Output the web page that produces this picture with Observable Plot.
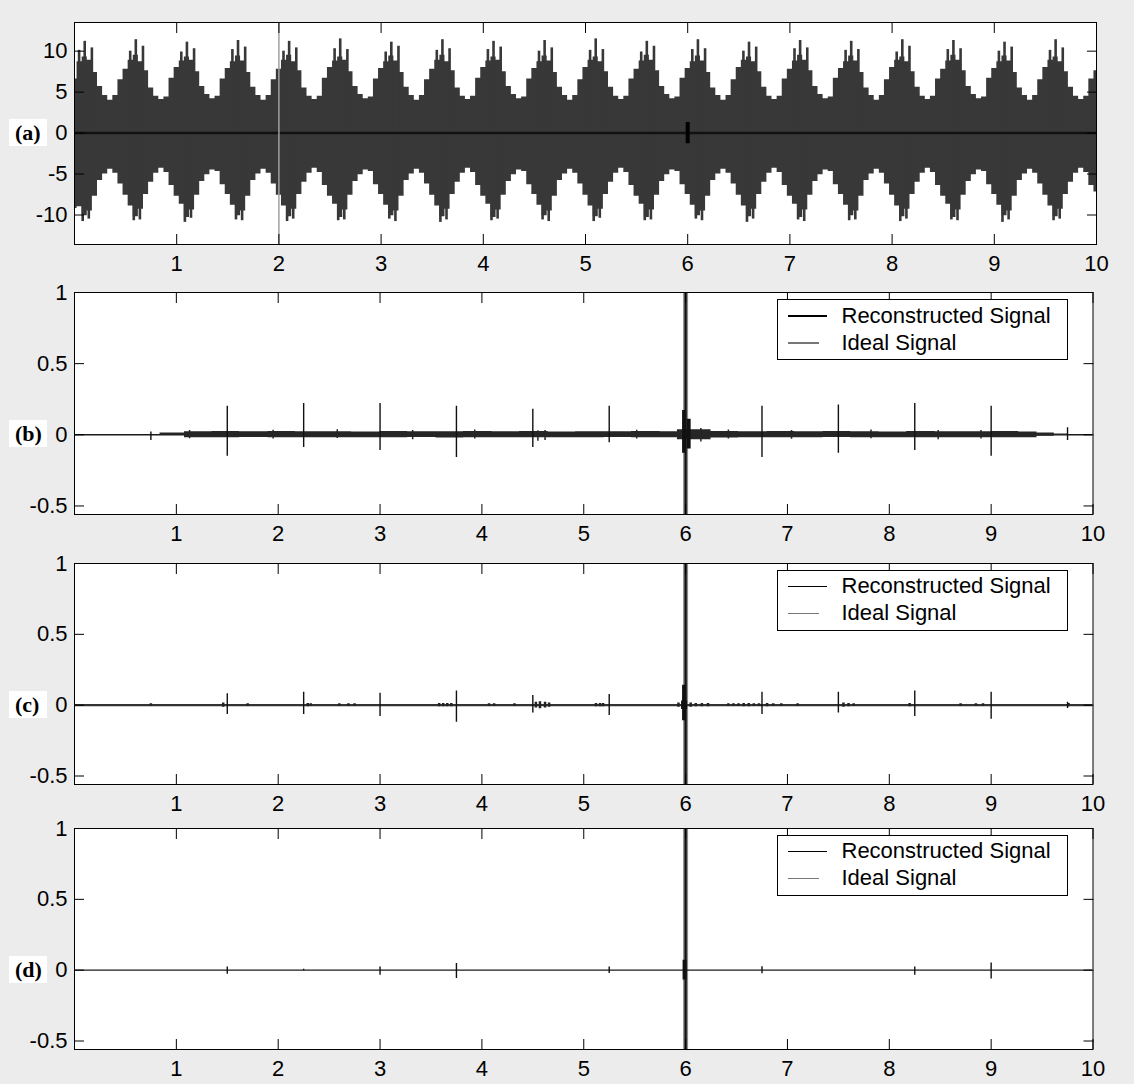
<!DOCTYPE html>
<html>
<head>
<meta charset="utf-8">
<script src="https://cdn.jsdelivr.net/npm/d3@7"></script>
<script src="https://cdn.jsdelivr.net/npm/@observablehq/plot@0.6"></script>
<style>
  html, body { margin: 0; padding: 0; background: #ececec; }
  #wrap { position: relative; width: 1134px; height: 1084px; background: #ececec; overflow: hidden;
          font-family: "Liberation Sans", Arial, Helvetica, sans-serif; color: #000; }
  #wrap svg { position: absolute; left: 0; }
  .tag { position: absolute; left: 9px; width: 38px; height: 27px; background: #fff;
         font: bold 22px "Liberation Serif", "DejaVu Serif", serif; line-height: 27px;
         padding-left: 6px; box-sizing: border-box; white-space: nowrap; }
  .legend { position: absolute; left: 777px; width: 291px; height: 61px; border: 1px solid #000;
            background: #fff; box-sizing: border-box; }
  .ls { position: absolute; left: 10px; height: 1.5px; }
  .lt { position: absolute; left: 63.5px; font-size: 22px; line-height: 22px; white-space: nowrap; }
</style>
</head>
<body>
<div id="wrap"></div>
<script>
// ---------------- DATA ----------------
const xTicks = [1, 2, 3, 4, 5, 6, 7, 8, 9, 10];
const yTicksA = [-10, -5, 0, 5, 10];
const yTicksB = [-0.5, 0, 0.5, 1];
const panelTags = ["(a)", "(b)", "(c)", "(d)"];
const legendLabels = ["Reconstructed Signal", "Ideal Signal"];

// Panel (a): body of the signal envelope, sampled every 0.05 s from 0 to 10
const sigStep = 0.05;
const sigUpper = [
  6.6, 8.7, 9.3, 8.9, 7.4, 5.7, 4.6, 4.0, 4.6, 6.5,
  7.8, 8.9, 9.5, 8.7, 7.6, 5.5, 4.5, 4.1, 4.4, 6.7,
  8.0, 8.8, 9.3, 8.9, 7.5, 5.7, 4.7, 4.2, 4.5, 6.6,
  7.9, 8.7, 9.4, 8.8, 7.4, 5.6, 4.6, 4.0, 4.6, 6.5,
  7.8, 8.9, 9.5, 8.7, 7.6, 5.5, 4.5, 4.1, 4.5, 6.7,
  8.0, 8.8, 9.3, 8.9, 7.5, 5.7, 4.7, 4.2, 4.4, 6.6,
  7.9, 8.7, 9.4, 8.8, 7.4, 5.6, 4.6, 4.0, 4.6, 6.5,
  7.8, 8.9, 9.5, 8.7, 7.6, 5.5, 4.5, 4.1, 4.5, 6.7,
  8.0, 8.8, 9.3, 8.9, 7.5, 5.7, 4.7, 4.2, 4.4, 6.6,
  7.9, 8.7, 9.4, 8.8, 7.4, 5.6, 4.6, 4.0, 4.6, 6.5,
  8.0, 8.9, 9.3, 8.7, 7.5, 5.6, 4.5, 4.1, 4.5, 6.6,
  7.8, 8.8, 9.5, 8.9, 7.6, 5.7, 4.7, 4.2, 4.4, 6.7,
  7.9, 8.7, 9.4, 8.8, 7.4, 5.5, 4.6, 4.0, 4.6, 6.5,
  8.0, 8.9, 9.3, 8.7, 7.5, 5.6, 4.5, 4.1, 4.5, 6.6,
  7.8, 8.8, 9.5, 8.9, 7.6, 5.7, 4.7, 4.2, 4.4, 6.7,
  7.9, 8.7, 9.4, 8.8, 7.4, 5.5, 4.6, 4.0, 4.6, 6.5,
  8.0, 8.9, 9.3, 8.7, 7.5, 5.6, 4.5, 4.1, 4.5, 6.6,
  7.8, 8.8, 9.5, 8.9, 7.6, 5.7, 4.7, 4.2, 4.4, 6.7,
  7.9, 8.7, 9.4, 8.8, 7.4, 5.5, 4.6, 4.0, 4.6, 6.5,
  8.0, 8.9, 9.3, 8.7, 7.5, 5.6, 4.5, 4.1, 4.5, 6.6,
  7.6
];
const sigLower = [
  -9.2, -9.0, -10.1, -9.5, -7.7, -5.8, -5.0, -4.4, -4.9, -6.2,
  -7.6, -8.9, -10.2, -9.3, -7.5, -6.0, -4.9, -4.3, -4.8, -6.4,
  -7.7, -8.7, -10.3, -9.4, -7.6, -5.9, -5.1, -4.5, -4.7, -6.3,
  -7.5, -8.8, -10.1, -9.5, -7.7, -5.8, -5.0, -4.4, -4.9, -6.2,
  -7.6, -8.9, -10.2, -9.3, -7.5, -6.0, -4.9, -4.3, -4.8, -6.4,
  -7.7, -8.7, -10.3, -9.4, -7.6, -5.9, -5.1, -4.5, -4.7, -6.3,
  -7.5, -8.8, -10.1, -9.5, -7.7, -5.8, -5.0, -4.4, -4.9, -6.2,
  -7.6, -8.9, -10.2, -9.3, -7.5, -6.0, -4.9, -4.3, -4.8, -6.4,
  -7.7, -8.7, -10.3, -9.4, -7.6, -5.9, -5.1, -4.5, -4.7, -6.3,
  -7.5, -8.8, -10.1, -9.5, -7.7, -5.8, -5.0, -4.4, -4.9, -6.2,
  -7.6, -8.9, -10.2, -9.3, -7.5, -6.0, -4.9, -4.3, -4.8, -6.4,
  -7.7, -8.7, -10.3, -9.4, -7.6, -5.9, -5.1, -4.5, -4.7, -6.3,
  -7.5, -8.8, -10.1, -9.5, -7.7, -5.8, -5.0, -4.4, -4.9, -6.2,
  -7.6, -8.9, -10.2, -9.3, -7.5, -6.0, -4.9, -4.3, -4.8, -6.4,
  -7.7, -8.7, -10.3, -9.4, -7.6, -5.9, -5.1, -4.5, -4.7, -6.3,
  -7.5, -8.8, -10.1, -9.5, -7.7, -5.8, -5.0, -4.4, -4.9, -6.2,
  -7.6, -8.9, -10.2, -9.3, -7.5, -6.0, -4.9, -4.3, -4.8, -6.4,
  -7.7, -8.7, -10.3, -9.4, -7.6, -5.9, -5.1, -4.5, -4.7, -6.3,
  -7.5, -8.8, -10.1, -9.5, -7.7, -5.8, -5.0, -4.4, -4.9, -6.2,
  -7.6, -8.9, -10.2, -9.3, -7.5, -6.0, -4.9, -4.3, -4.8, -6.4,
  -7.2
];
// Panel (a): narrow spikes on the envelope peaks
const aUpSpikeX = [
  0.045, 0.1, 0.17, 0.545, 0.6, 0.67, 1.045, 1.1, 1.17, 1.545, 1.6, 1.67,
  2.045, 2.1, 2.17, 2.545, 2.6, 2.67, 3.045, 3.1, 3.17, 3.545, 3.6, 3.67,
  4.045, 4.1, 4.17, 4.545, 4.6, 4.67, 5.045, 5.1, 5.17, 5.545, 5.6, 5.67,
  6.045, 6.1, 6.17, 6.545, 6.6, 6.67, 7.045, 7.1, 7.17, 7.545, 7.6, 7.67,
  8.045, 8.1, 8.17, 8.545, 8.6, 8.67, 9.045, 9.1, 9.17, 9.545, 9.6, 9.67
];
const aUpSpikeTop = [
  10.1, 11.2, 10.4, 10.0, 11.4, 10.6, 9.9, 11.1, 10.3, 10.2, 11.3, 10.5,
  10.0, 11.2, 10.4, 10.3, 11.5, 10.2, 9.9, 11.1, 10.6, 10.1, 11.4, 10.3,
  10.2, 11.2, 10.5, 10.0, 11.3, 10.4, 10.1, 11.5, 10.2, 9.9, 11.2, 10.6,
  10.2, 11.4, 10.3, 10.0, 11.1, 10.5, 10.3, 11.3, 10.4, 10.1, 11.2, 10.2,
  9.9, 11.4, 10.6, 10.2, 11.3, 10.3, 10.0, 11.1, 10.5, 10.1, 11.4, 10.4
];
const aLoSpikeX = [
  0.08, 0.14, 0.58, 0.64, 1.08, 1.14, 1.58, 1.64, 2.08, 2.14, 2.58, 2.64, 3.08, 3.14, 3.58, 3.64, 4.08, 4.14, 4.58, 4.64,
  5.08, 5.14, 5.58, 5.64, 6.08, 6.14, 6.58, 6.64, 7.08, 7.14, 7.58, 7.64, 8.08, 8.14, 8.58, 8.64, 9.08, 9.14, 9.58, 9.64
];
const aLoSpikeBot = [
  -10.8, -10.5, -10.7, -10.6, -10.9, -10.4, -10.6, -10.7, -10.8, -10.5, -10.7, -10.6, -10.5, -10.8, -10.9, -10.6, -10.7, -10.5, -10.6, -10.8,
  -10.8, -10.4, -10.7, -10.6, -10.5, -10.7, -10.9, -10.5, -10.6, -10.8, -10.7, -10.6, -10.8, -10.5, -10.6, -10.7, -10.9, -10.6, -10.7, -10.5
];
const glitchX = [2];            // light vertical trace in (a)
const faultX = [6], faultTop = [1.3], faultBot = [-1.3]; // dark blob at t = 6 in (a)

// Ideal signal: impulse at t = 6 (runs beyond the axes)
const idealX = [6], idealTop = [1.6], idealBot = [-0.9];

// Reconstructed impulses (main one at t = 6 runs beyond the axes)
const mainX = [6], mainTop = [1.6], mainBot = [-0.9];

// (b) reconstructed: spikes every 0.75 s
const bSpikeX   = [0.75, 1.5, 2.25, 3, 3.75, 4.5, 5.25, 6.75, 7.5, 8.25, 9, 9.75];
const bSpikeTop = [0.02, 0.2, 0.22, 0.22, 0.2, 0.18, 0.2, 0.2, 0.21, 0.22, 0.2, 0.05];
const bSpikeBot = [-0.04, -0.15, -0.09, -0.11, -0.16, -0.09, -0.055, -0.16, -0.13, -0.11, -0.15, -0.04];
const bBlobX = [5.985, 6.03], bBlobTop = [0.17, 0.11], bBlobBot = [-0.13, -0.1];
// (b) residual noise band
const bandX = [0.84, 1.08, 1.35, 1.62, 1.9, 2.17, 2.45, 2.72, 3.0, 3.27, 3.55, 3.82, 4.1, 4.37, 4.65, 4.92, 5.2, 5.47, 5.75, 5.92,
               6.25, 6.52, 6.8, 7.07, 7.35, 7.62, 7.9, 8.17, 8.45, 8.72, 9.0, 9.27, 9.45, 9.62, 9.75];
const bandTop = [0.013, 0.022, 0.023, 0.021, 0.023, 0.022, 0.022, 0.02, 0.023, 0.022, 0.021, 0.023, 0.022, 0.023, 0.02, 0.022, 0.021, 0.023, 0.022, 0.035,
                 0.024, 0.022, 0.023, 0.021, 0.023, 0.022, 0.02, 0.023, 0.022, 0.021, 0.023, 0.02, 0.012, 0.006, 0.006];
const bandBot = [-0.003, -0.02, -0.021, -0.019, -0.021, -0.02, -0.021, -0.02, -0.021, -0.019, -0.022, -0.02, -0.021, -0.02, -0.021, -0.02, -0.019, -0.021, -0.02, -0.035,
                 -0.023, -0.02, -0.021, -0.02, -0.019, -0.021, -0.02, -0.02, -0.021, -0.02, -0.021, -0.02, -0.01, -0.005, -0.005];
const bBlipX   = [1.13, 1.95, 2.58, 3.32, 3.93, 4.55, 4.62, 5.52, 6.15, 6.42, 7.04, 7.82, 8.48, 8.9];
const bBlipTop = [0.03, 0.032, 0.036, 0.03, 0.034, 0.028, 0.03, 0.032, 0.045, 0.034, 0.03, 0.033, 0.031, 0.03];
const bBlipBot = [-0.028, -0.03, -0.026, -0.034, -0.03, -0.045, -0.04, -0.03, -0.05, -0.03, -0.032, -0.028, -0.034, -0.03];

// (c) reconstructed
const cSpikeX   = [1.5, 2.25, 3, 3.75, 4.5, 5.25, 6.75, 7.5, 8.25, 9, 9.75];
const cSpikeTop = [0.08, 0.092, 0.085, 0.1, 0.068, 0.075, 0.092, 0.092, 0.1, 0.092, 0.02];
const cSpikeBot = [-0.066, -0.066, -0.08, -0.12, -0.056, -0.073, -0.066, -0.056, -0.08, -0.1, -0.023];
const cBlobX = [5.985, 5.975, 5.995], cBlobTop = [0.14, 0.03, 0.03], cBlobBot = [-0.11, -0.03, -0.03];
const cBlipX = [0.75, 1.46, 1.7, 2.29, 2.32, 2.6, 2.69, 2.75, 3.58, 3.62, 3.66, 3.7, 4.07, 4.12, 4.32, 4.53, 4.57, 4.62, 4.66,
                5.12, 5.16, 5.19, 5.93, 6.05, 6.1, 6.16, 6.22, 6.42, 6.47, 6.52, 6.57, 6.62, 6.67, 6.72, 6.8, 6.86, 6.94, 7.1,
                7.55, 7.6, 7.65, 8.2, 8.7, 8.85, 8.92, 9.76];
const cBlipAmp = [0.01, 0.015, 0.01, 0.012, 0.01, 0.01, 0.01, 0.01, 0.012, 0.012, 0.012, 0.012, 0.01, 0.01, 0.01, 0.02, 0.025, 0.02, 0.015,
                  0.012, 0.012, 0.012, 0.015, 0.015, 0.012, 0.012, 0.012, 0.01, 0.01, 0.01, 0.012, 0.012, 0.01, 0.01, 0.012, 0.01, 0.01, 0.01,
                  0.015, 0.012, 0.01, 0.012, 0.01, 0.01, 0.01, 0.012];

// (d) reconstructed
const dSpikeX   = [1.5, 2.25, 3, 3.75, 5.25, 6.75, 8.25, 9];
const dSpikeTop = [0.023, 0.006, 0.023, 0.047, 0.023, 0.025, 0.023, 0.05];
const dSpikeBot = [-0.028, -0.004, -0.035, -0.058, -0.023, -0.025, -0.035, -0.063];
const dBlobX = [5.99], dBlobTop = [0.07], dBlobBot = [-0.07];

// ---------------- BUILD ----------------
const zip3 = (X, T, B) => X.map((x, i) => ({x, top: T[i], bot: B[i]}));
const sigData = sigUpper.map((hi, i) => ({t: +(i * sigStep).toFixed(2), hi, lo: sigLower[i]}));
const fmt = d => String(d);
const W = 1134;
const wrap = document.getElementById("wrap");

function axes(yTicks) {
  return [
    Plot.axisX({ticks: xTicks, anchor: "bottom", tickSize: -10, fill: "none", label: null}),
    Plot.axisX({ticks: xTicks, anchor: "top", tickSize: -10, fill: "none", label: null}),
    Plot.axisY({ticks: yTicks, anchor: "left", tickSize: -10, fill: "none", label: null}),
    Plot.axisY({ticks: yTicks, anchor: "right", tickSize: -10, fill: "none", label: null}),
    Plot.axisX({ticks: xTicks, anchor: "bottom", tickSize: 0, tickPadding: 11, fontSize: 22, label: null, tickFormat: fmt}),
    Plot.axisY({ticks: yTicks, anchor: "left", tickSize: 0, tickPadding: 7, fontSize: 22, label: null, tickFormat: fmt}),
    Plot.frame({stroke: "black", strokeWidth: 1})
  ];
}

function panel({top, H, mr, yDomain, yTicks, marks}) {
  const svg = Plot.plot({
    width: W, height: H + 20 + 36,
    marginTop: 20, marginBottom: 36, marginLeft: 74, marginRight: mr,
    style: {background: "transparent", color: "black", fontFamily: '"Liberation Sans", Arial, Helvetica, sans-serif', fontSize: "22px", overflow: "visible"},
    x: {domain: [0, 10]},
    y: {domain: yDomain},
    marks: [Plot.frame({fill: "white", stroke: null}), ...marks, ...axes(yTicks)]
  });
  svg.style.top = (top - 20) + "px";
  wrap.appendChild(svg);
}

function reconMarks(spikes, blob, extra) {
  return [
    Plot.ruleX(zip3(idealX, idealTop, idealBot), {x: "x", y1: "bot", y2: "top", stroke: "#8c8c8c", strokeWidth: 5, clip: true}),
    Plot.ruleY([0], {stroke: "#1a1a1a", strokeWidth: 1.4, clip: true}),
    ...extra,
    Plot.ruleX(spikes, {x: "x", y1: "bot", y2: "top", stroke: "#111", strokeWidth: 1.4, clip: true}),
    Plot.ruleX(blob, {x: "x", y1: "bot", y2: "top", stroke: "#111", strokeWidth: 4, clip: true}),
    Plot.ruleX(zip3(mainX, mainTop, mainBot), {x: "x", y1: "bot", y2: "top", stroke: "#111", strokeWidth: 2.2, clip: true})
  ];
}

// (a)
panel({
  top: 22, H: 222, mr: 38, yDomain: [-13.6, 13.5], yTicks: yTicksA,
  marks: [
    Plot.areaY(sigData, {x: "t", y1: "lo", y2: "hi", curve: "step", fill: "#383838", clip: true}),
    Plot.ruleX(aUpSpikeX.map((x, i) => ({x, v: aUpSpikeTop[i]})), {x: "x", y1: 0, y2: "v", stroke: "#383838", strokeWidth: 2.6, clip: true}),
    Plot.ruleX(aLoSpikeX.map((x, i) => ({x, v: aLoSpikeBot[i]})), {x: "x", y1: 0, y2: "v", stroke: "#383838", strokeWidth: 2.6, clip: true}),
    Plot.ruleY([0], {stroke: "#111", strokeWidth: 2.5, clip: true}),
    Plot.ruleX(glitchX, {stroke: "#a0a0a0", strokeWidth: 1.5, clip: true}),
    Plot.ruleX(zip3(faultX, faultTop, faultBot), {x: "x", y1: "bot", y2: "top", stroke: "#000", strokeWidth: 4, clip: true})
  ]
});

// (b)
panel({
  top: 292, H: 222, mr: 41.5, yDomain: [-0.56, 1], yTicks: yTicksB,
  marks: reconMarks(zip3(bSpikeX, bSpikeTop, bSpikeBot), zip3(bBlobX, bBlobTop, bBlobBot), [
    Plot.areaY(zip3(bandX, bandTop, bandBot), {x: "x", y1: "bot", y2: "top", curve: "step-after", fill: "#262626", clip: true}),
    Plot.ruleX(zip3(bBlipX, bBlipTop, bBlipBot), {x: "x", y1: "bot", y2: "top", stroke: "#262626", strokeWidth: 1.5, clip: true})
  ])
});

// (c)
panel({
  top: 563, H: 221, mr: 41.5, yDomain: [-0.56, 1], yTicks: yTicksB,
  marks: reconMarks(zip3(cSpikeX, cSpikeTop, cSpikeBot), zip3(cBlobX, cBlobTop, cBlobBot), [
    Plot.ruleY([0], {stroke: "#333", strokeWidth: 2.2, clip: true}),
    Plot.ruleX(cBlipX.map((x, i) => ({x, top: cBlipAmp[i], bot: -cBlipAmp[i]})), {x: "x", y1: "bot", y2: "top", stroke: "#222", strokeWidth: 2.5, clip: true})
  ])
});

// (d)
panel({
  top: 828, H: 221, mr: 41.5, yDomain: [-0.56, 1], yTicks: yTicksB,
  marks: reconMarks(zip3(dSpikeX, dSpikeTop, dSpikeBot), zip3(dBlobX, dBlobTop, dBlobBot), [])
});

// panel tags
const tagTops = [119, 420, 691, 956];
panelTags.forEach((t, i) => {
  const d = document.createElement("div");
  d.className = "tag"; d.style.top = tagTops[i] + "px"; d.textContent = t;
  wrap.appendChild(d);
});

// legends
const legendTops = [299, 569.5, 834.5];
const legendColors = ["#000", "#777"];
const legendLineW = [39, 31];
legendTops.forEach(top => {
  const box = document.createElement("div");
  box.className = "legend"; box.style.top = top + "px";
  legendLabels.forEach((lab, j) => {
    const ls = document.createElement("div");
    ls.className = "ls"; ls.style.top = (15 + 27 * j) + "px";
    ls.style.width = legendLineW[j] + "px"; ls.style.background = legendColors[j];
    const lt = document.createElement("div");
    lt.className = "lt"; lt.style.top = (4.7 + 27 * j) + "px"; lt.textContent = lab;
    box.appendChild(ls); box.appendChild(lt);
  });
  wrap.appendChild(box);
});
</script>
</body>
</html>
